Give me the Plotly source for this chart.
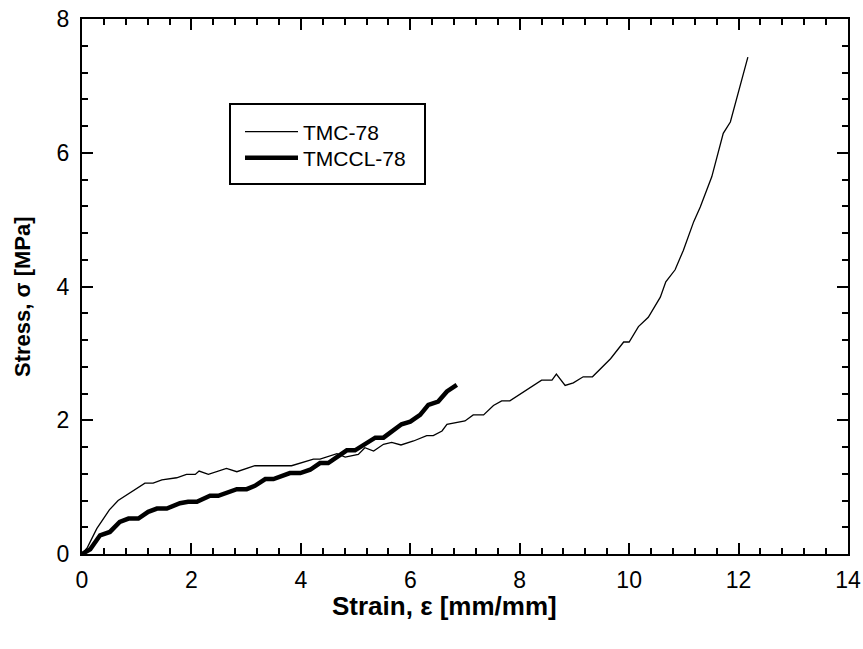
import plotly.graph_objects as go

tmc_strain = [0, 0.1, 0.27, 0.5, 0.66, 0.9, 1.15, 1.30, 1.46, 1.73, 1.91, 2.07, 2.14, 2.31, 2.64, 2.83,
              3.16, 3.83, 4.02, 4.23, 4.35, 4.66, 4.81, 5.05, 5.17, 5.33, 5.51, 5.66, 5.83, 6.06,
              6.30, 6.42, 6.58, 6.67, 7.00, 7.15, 7.34, 7.52, 7.67, 7.82, 8.40, 8.59, 8.67, 8.83,
              8.98, 9.16, 9.33, 9.66, 9.90, 10.00, 10.17, 10.35, 10.57, 10.67, 10.84, 10.99, 11.18,
              11.30, 11.51, 11.72, 11.85, 11.97, 12.17]
tmc_stress = [0, 0.1, 0.38, 0.66, 0.80, 0.93, 1.06, 1.06, 1.11, 1.14, 1.19, 1.19, 1.24, 1.19, 1.28, 1.23,
              1.32, 1.32, 1.37, 1.42, 1.42, 1.50, 1.45, 1.49, 1.59, 1.54, 1.64, 1.67, 1.63, 1.69,
              1.77, 1.77, 1.84, 1.94, 1.99, 2.08, 2.08, 2.22, 2.29, 2.29, 2.60, 2.60, 2.69, 2.52,
              2.56, 2.65, 2.65, 2.92, 3.17, 3.17, 3.40, 3.54, 3.84, 4.07, 4.25, 4.54, 4.97,
              5.19, 5.64, 6.29, 6.46, 6.84, 7.43]

tmccl_strain = [0, 0.15, 0.33, 0.51, 0.69, 0.85, 1.03, 1.21, 1.37, 1.55, 1.79, 1.94, 2.10, 2.34, 2.49,
                2.83, 3.01, 3.16, 3.35, 3.50, 3.80, 3.99, 4.17, 4.35, 4.50, 4.66, 4.84, 4.99, 5.17,
                5.36, 5.51, 5.66, 5.84, 6.00, 6.18, 6.33, 6.51, 6.67, 6.85]
tmccl_stress = [0, 0.07, 0.28, 0.33, 0.48, 0.53, 0.53, 0.63, 0.68, 0.68, 0.76, 0.78, 0.78, 0.87, 0.87,
                0.97, 0.97, 1.02, 1.12, 1.12, 1.21, 1.21, 1.26, 1.36, 1.36, 1.45, 1.55, 1.55, 1.65,
                1.74, 1.74, 1.84, 1.94, 1.98, 2.08, 2.23, 2.28, 2.43, 2.53]

x_title = "Strain, ε [mm/mm]"
y_title = "Stress, σ [MPa]"

FONT = "Arial, Liberation Sans, sans-serif"

# plot-area pixel geometry (for paper-coordinate placement of decorations)
L, R, T, B = 82, 848, 19, 554
PW, PH = R - L, B - T


def px(xp):
    return (xp - L) / PW


def py(yp):
    return (B - yp) / PH


fig = go.Figure()
fig.add_trace(go.Scatter(x=tmc_strain, y=tmc_stress, mode="lines", name="TMC-78",
                         legend="legend", line=dict(color="black", width=1.3)))
fig.add_trace(go.Scatter(x=tmccl_strain, y=tmccl_stress, mode="lines", name="TMCCL-78",
                         legend="legend2", line=dict(color="black", width=4.5)))

axis_common = dict(
    showgrid=False, zeroline=False, showline=True, linecolor="black", linewidth=2,
    mirror="ticks", ticks="inside", ticklen=11, tickwidth=2, tickcolor="black",
    tickfont=dict(family=FONT, size=23, color="black"), automargin=False,
    minor=dict(ticks="inside", ticklen=6, tickwidth=2, tickcolor="black", dtick=0.4),
)

fig.update_xaxes(range=[0, 14], dtick=2, tick0=0, ticklabelstandoff=4, **axis_common)
fig.update_yaxes(range=[0, 8], dtick=2, tick0=0, ticklabelstandoff=6, **axis_common)

# axis titles
fig.add_annotation(text="<b>" + x_title + "</b>", xref="paper", yref="paper",
                   x=px(444), y=py(606), xanchor="center", yanchor="middle", showarrow=False,
                   font=dict(family=FONT, size=26, color="black"))
fig.add_annotation(text="<b>" + y_title + "</b>", xref="paper", yref="paper",
                   x=px(22), y=py(297), xanchor="center", yanchor="middle", showarrow=False,
                   textangle=-90, font=dict(family=FONT, size=22, color="black"))

# legend frame
fig.add_shape(type="rect", xref="paper", yref="paper",
              x0=px(230), x1=px(425), y0=py(184), y1=py(104),
              line=dict(color="black", width=2), fillcolor="white", layer="below")

leg_common = dict(xanchor="left", yanchor="middle", borderwidth=0, bgcolor="rgba(0,0,0,0)",
                  font=dict(family=FONT, size=21, color="black"), itemwidth=53)

fig.update_layout(
    width=863, height=649,
    margin=dict(l=L, r=863 - R, t=T, b=649 - B, autoexpand=False),
    plot_bgcolor="white", paper_bgcolor="white",
    legend=dict(x=px(240), y=py(132), **leg_common),
    legend2=dict(x=px(240), y=py(158), **leg_common),
    showlegend=True,
)

fig.write_html("out.html")
